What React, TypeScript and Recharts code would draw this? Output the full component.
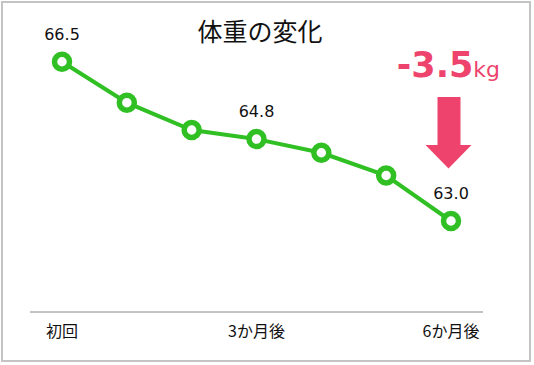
import { LineChart, Line, XAxis, YAxis } from "recharts";

const periods = ["初回", "1か月後", "2か月後", "3か月後", "4か月後", "5か月後", "6か月後"];
const weights = [66.5, 65.6, 65.0, 64.8, 64.5, 64.0, 63.0];
const labeledIndexes = [0, 3, 6];
const yDomain = [61, 67];
const title = "体重の変化";
const diffValue = "-3.5";
const diffUnit = "kg";

const GREEN = "#30c024";
const PINK = "#ee436c";
const FONT = "'Noto Sans CJK JP', 'Noto Sans', sans-serif";
const NUM_FONT = "'DejaVu Sans', sans-serif";

const chartData = periods.map((name, i) => ({ name, weight: weights[i] }));

function ValueLabel(props: any) {
  const { x, y, value, index } = props;
  if (!labeledIndexes.includes(index)) return null;
  return (
    <text x={x} y={y - 22} textAnchor="middle" fontSize={16} fill="#111" fontFamily={NUM_FONT}>
      {Number(value).toFixed(1)}
    </text>
  );
}

export default function App() {
  return (
    <div style={{ position: "absolute", left: 0, top: 0, width: 534, height: 365, background: "#fff" }}>
      <div
        style={{
          position: "absolute",
          left: 1,
          top: 1,
          width: 530,
          height: 361,
          boxSizing: "border-box",
          border: "2px solid #c4c4c4",
        }}
      />
      <div style={{ position: "absolute", left: 0, top: 0 }}>
        <LineChart
          width={534}
          height={365}
          data={chartData}
          margin={{ top: 39, right: 51, left: 30, bottom: 23 }}
        >
          <XAxis
            dataKey="name"
            height={30}
            interval={2}
            padding={{ left: 32, right: 32 }}
            tickLine={false}
            axisLine={{ stroke: "#888", strokeWidth: 1 }}
            tick={{ fontSize: 16, fill: "#111", fontFamily: FONT }}
            dy={6}
          />
          <YAxis hide domain={yDomain} />
          <Line
            dataKey="weight"
            stroke={GREEN}
            strokeWidth={4}
            dot={{ r: 7.5, strokeWidth: 5.5, fill: "#fff", stroke: GREEN }}
            activeDot={false}
            label={<ValueLabel />}
            isAnimationActive={false}
          />
          <text x={260} y={41} textAnchor="middle" fontSize={25} fill="#111" fontFamily={FONT}>
            {title}
          </text>
          <text x={500} y={77} textAnchor="end" fill={PINK} fontFamily={NUM_FONT}>
            <tspan fontSize={35} fontWeight="bold">{diffValue}</tspan>
            <tspan fontSize={22}>{diffUnit}</tspan>
          </text>
          <polygon
            points="437.5,97 460.5,97 460.5,145 471.5,145 448.5,168.5 425.5,145 437.5,145"
            fill={PINK}
          />
        </LineChart>
      </div>
    </div>
  );
}
